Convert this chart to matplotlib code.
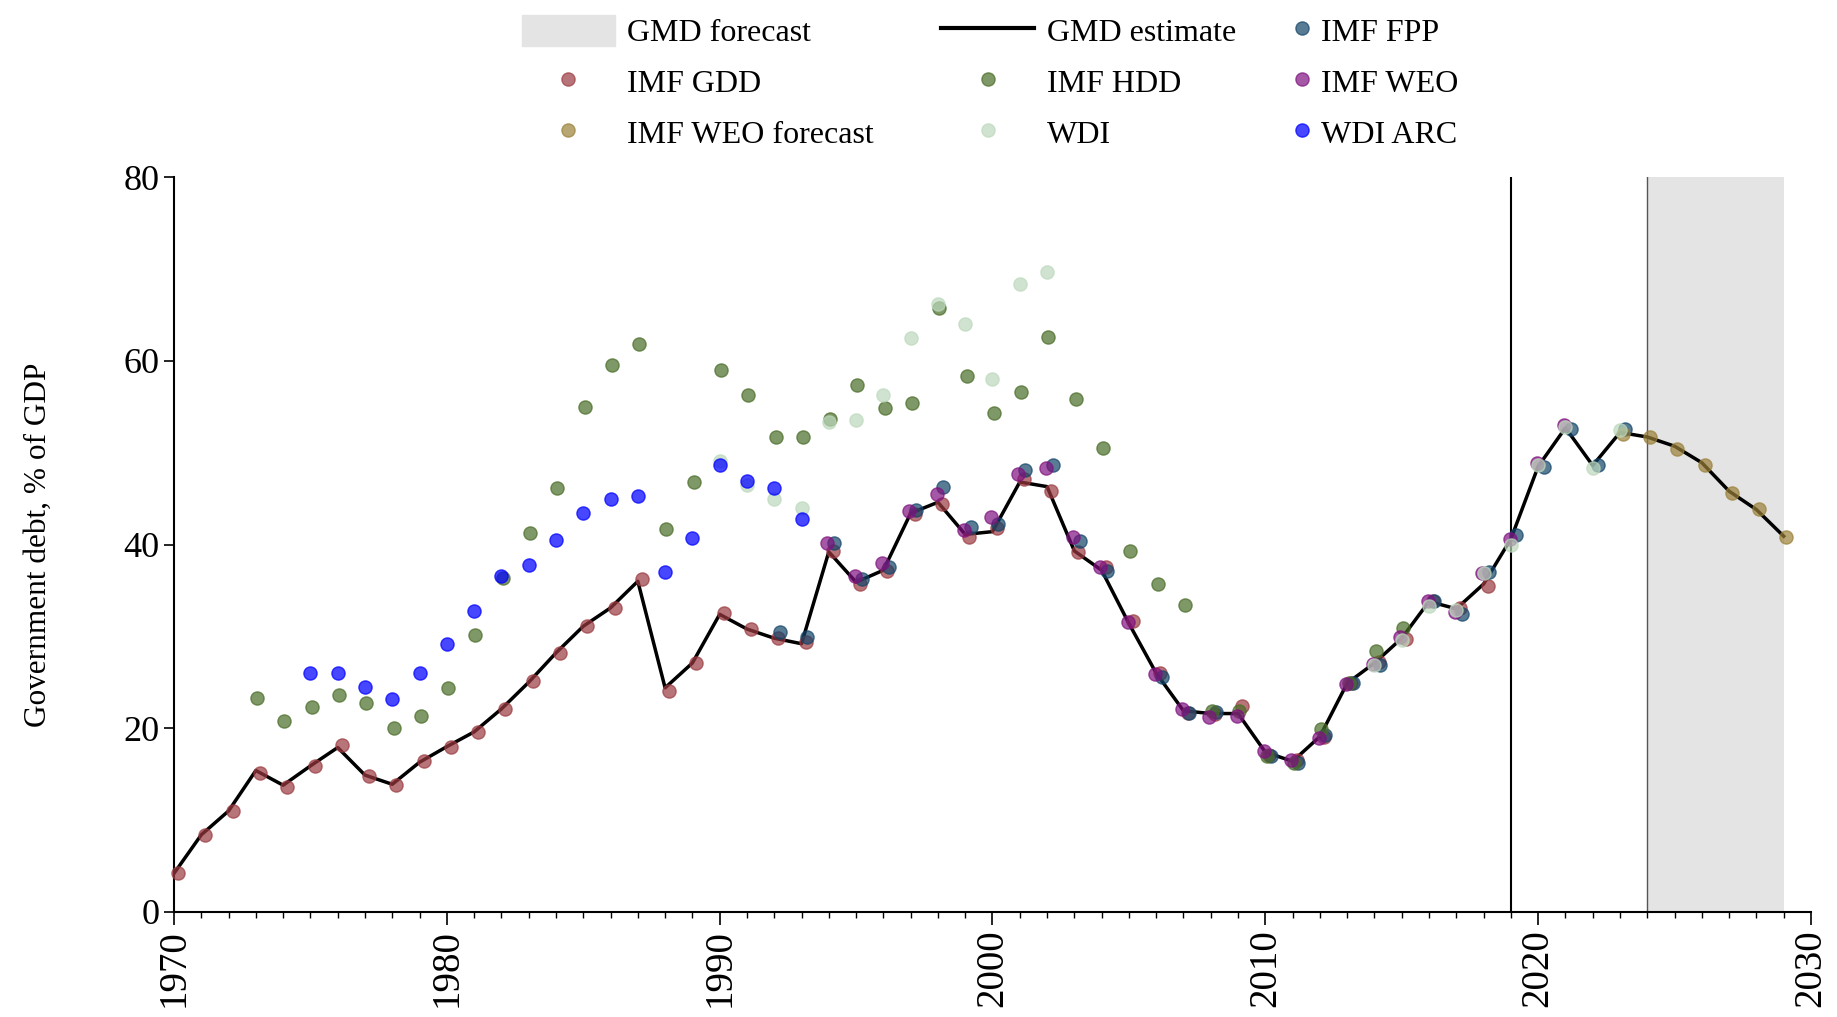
import numpy as np
import matplotlib.pyplot as plt
from matplotlib.patches import Patch
from matplotlib.lines import Line2D

plt.rcParams['font.family'] = ['Liberation Serif', 'DejaVu Serif']

# GMD estimate (line), 1970-2029
gmd_years = list(range(1970, 2030))
gmd_values = [4.2, 8.4, 11.0, 15.4, 13.8, 15.9, 17.9, 14.9, 13.9, 16.3,
              18.0, 19.6, 22.1, 25.0, 28.2, 31.1, 33.1, 36.0, 24.4, 27.1,
              32.4, 30.8, 29.8, 29.2, 39.2, 35.9, 37.2, 43.4, 44.6, 41.1,
              41.4, 46.8, 46.3, 39.3, 37.2, 31.4, 26.0, 21.9, 21.6, 21.6,
              17.4, 16.4, 19.1, 24.9, 27.1, 29.8, 33.8, 33.0, 35.7, 40.6,
              48.5, 52.7, 48.6, 52.2, 51.7, 50.7, 48.9, 45.8, 43.8, 40.9]

# IMF GDD
gdd_years = list(range(1970, 2019))
gdd_values = [4.2, 8.4, 11.0, 15.1, 13.6, 15.9, 18.2, 14.8, 13.8, 16.4,
              18.0, 19.6, 22.1, 25.1, 28.2, 31.1, 33.1, 36.2, 24.1, 27.1,
              32.5, 30.8, 29.8, 29.4, 39.3, 35.7, 37.1, 43.3, 44.4, 40.8,
              41.8, 47.1, 45.8, 39.2, 37.5, 31.7, 26.0, 21.7, 21.6, 22.4,
              17.1, 16.5, 19.0, 24.9, 27.2, 29.7, 33.8, 33.1, 35.5]

# IMF HDD
hdd_years = list(range(1973, 2016))
hdd_values = [23.3, 20.8, 22.3, 23.6, 22.8, 20.0, 21.3, 24.4, 30.2, 36.3,
              41.3, 46.1, 55.0, 59.5, 61.8, 41.7, 46.8, 59.0, 56.3, 51.7,
              51.7, 53.7, 57.4, 54.9, 55.4, 65.7, 58.3, 54.3, 56.6, 62.6,
              55.8, 50.5, 39.3, 35.7, 33.4, 21.9, 21.9, 17.0, 16.2, 19.9,
              24.9, 28.4, 30.9]

# IMF FPP
fpp_years = [1992, 1993, 1994, 1995, 1996, 1997, 1998, 1999, 2000, 2001,
             2002, 2003, 2004, 2006, 2007, 2008, 2010, 2011, 2012, 2013,
             2014, 2016, 2017, 2018, 2019, 2020, 2021, 2022, 2023]
fpp_values = [30.5, 29.9, 40.2, 36.2, 37.5, 43.8, 46.3, 41.9, 42.2, 48.1,
              48.7, 40.4, 37.1, 25.6, 21.7, 21.8, 17.0, 16.2, 19.3, 24.9,
              26.9, 33.9, 32.4, 37.0, 41.0, 48.4, 52.6, 48.7, 52.6]

# IMF WEO
weo_years = list(range(1994, 2022))
weo_values = [40.2, 36.6, 38.0, 43.6, 45.5, 41.6, 43.0, 47.7, 48.3, 40.8,
              37.5, 31.6, 25.9, 22.1, 21.2, 21.3, 17.5, 16.5, 18.9, 24.8,
              27.0, 29.9, 33.8, 32.6, 36.9, 40.6, 48.9, 53.0]

# IMF WEO forecast
weof_years = list(range(2023, 2030))
weof_values = [52.0, 51.7, 50.4, 48.7, 45.6, 43.9, 40.8]

# WDI
wdi_years = [1990, 1991, 1992, 1993, 1994, 1995, 1996, 1997, 1998, 1999,
             2000, 2001, 2002, 2014, 2015, 2016, 2017, 2018, 2019, 2020,
             2021, 2022, 2023]
wdi_values = [49.1, 46.5, 45.0, 44.0, 53.3, 53.5, 56.3, 62.5, 66.2, 64.0,
              58.0, 68.4, 69.7, 26.9, 29.6, 33.3, 32.9, 36.9, 39.9, 48.7,
              52.8, 48.3, 52.5]

# WDI ARC
arc_years = list(range(1975, 1994))
arc_values = [26.0, 26.0, 24.5, 23.2, 26.0, 29.2, 32.8, 36.6, 37.8, 40.5,
              43.4, 44.9, 45.3, 37.0, 40.7, 48.6, 46.9, 46.1, 42.8]

fig = plt.figure(figsize=(18.37, 10.17), dpi=100)
ax = fig.add_axes([174 / 1837, 105 / 1017, 1637 / 1837, 735 / 1017])

# forecast band and marker line
ax.axvspan(2024, 2029, color='#e4e4e4', lw=0, zorder=0)
ax.axvline(2024, color='#555555', lw=1, zorder=1)
ax.axvline(2019, color='black', lw=1.5, zorder=1)

ax.plot(gmd_years, gmd_values, color='black', lw=2.5, zorder=2)

series = [
    (gdd_years, gdd_values, '#9b3a40', 0.7, 0.15),
    (fpp_years, fpp_values, '#134469', 0.7, 0.2),
    (hdd_years, hdd_values, '#496c27', 0.7, 0.05),
    (weo_years, weo_values, '#7f117f', 0.7, -0.05),
    (weof_years, weof_values, '#9a8038', 0.7, 0.1),
    (wdi_years, wdi_values, '#bcd8bc', 0.7, 0.0),
    (arc_years, arc_values, '#0000ff', 0.72, 0.0),
]
for yrs, vals, col, a, off in series:
    ax.plot(np.array(yrs) + off, vals, 'o', color=col, alpha=a, ms=9.5,
            mew=1, zorder=3, clip_on=False)

ax.set_xlim(1970, 2030)
ax.set_ylim(0, 80)
ax.set_xticks(range(1970, 2031, 10))
ax.set_xticks(range(1970, 2031), minor=True)
ax.set_yticks([0, 20, 40, 60, 80])
ax.tick_params(axis='x', which='major', length=9, width=1.2, labelsize=28,
               labelrotation=90)
ax.tick_params(axis='x', which='minor', length=4.5, width=1)
ax.tick_params(axis='y', length=7, width=1.2, labelsize=26)
for s in ['top', 'right']:
    ax.spines[s].set_visible(False)
for s in ['left', 'bottom']:
    ax.spines[s].set_linewidth(1.5)

ax.set_ylabel('Government debt, % of GDP', fontsize=22.5)
ax.yaxis.set_label_coords(-0.074, 0.5)

# legend: first two columns
h1 = [Patch(color='#e4e4e4'),
      Line2D([], [], marker='o', ls='', color='#9b3a40', alpha=0.7, ms=9.5),
      Line2D([], [], marker='o', ls='', color='#9a8038', alpha=0.7, ms=9.5),
      Line2D([], [], color='black', lw=3),
      Line2D([], [], marker='o', ls='', color='#496c27', alpha=0.7, ms=9.5),
      Line2D([], [], marker='o', ls='', color='#bcd8bc', alpha=0.7, ms=9.5)]
l1 = ['GMD forecast', 'IMF GDD', 'IMF WEO forecast',
      'GMD estimate', 'IMF HDD', 'WDI']
fig.legend(h1, l1, ncol=2, loc='upper left',
           bbox_to_anchor=(522 / 1837, 1 - 15 / 1017), frameon=False,
           fontsize=23, handlelength=2.9, handleheight=1.1,
           handletextpad=0.4, columnspacing=2.1, labelspacing=0.55,
           borderpad=0, borderaxespad=0)
h2 = [Line2D([], [], marker='o', ls='', color='#134469', alpha=0.7, ms=9.5),
      Line2D([], [], marker='o', ls='', color='#7f117f', alpha=0.7, ms=9.5),
      Line2D([], [], marker='o', ls='', color='#0000ff', alpha=0.72, ms=9.5)]
l2 = ['IMF FPP', 'IMF WEO', 'WDI ARC']
fig.legend(h2, l2, ncol=1, loc='upper left',
           bbox_to_anchor=(1292 / 1837, 1 - 15 / 1017), frameon=False,
           fontsize=23, handlelength=0.6, handleheight=1.1,
           handletextpad=0.3, labelspacing=0.55,
           borderpad=0, borderaxespad=0)

fig.savefig('out.png', dpi=100)
